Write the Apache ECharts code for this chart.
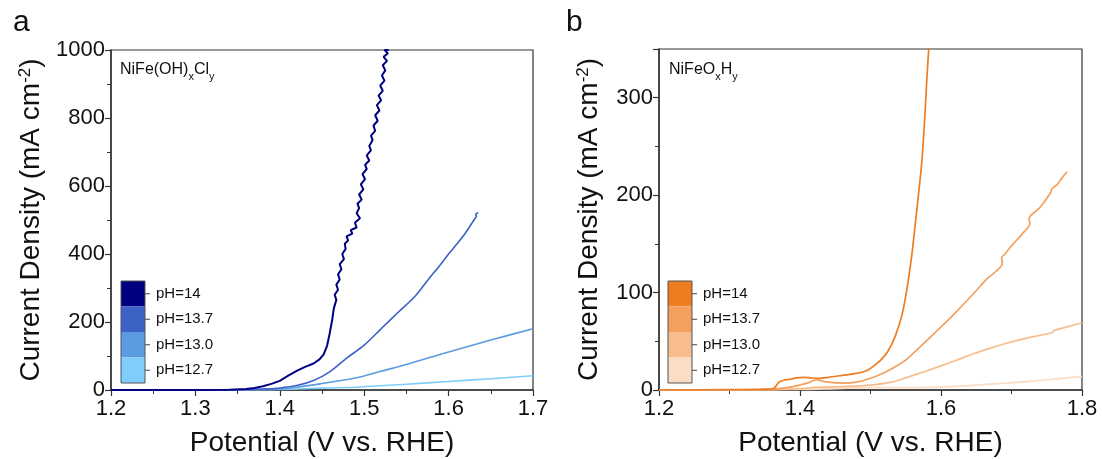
<!DOCTYPE html>
<html lang="en">
<head>
<meta charset="UTF-8">
<title>LSV curves</title>
<style>
    *{ margin:0; padding:0; }
    body{ background:#fff; }
    #chart{ width:1102px; height:459px; }
</style>
</head>
<body>
<div id="chart"></div>
<script src="https://cdn.jsdelivr.net/npm/echarts@6/dist/echarts.min.js"></script>
<script>
// ---- data (potential V vs. RHE, current density mA cm-2) ----
var phLabels = ['pH=14', 'pH=13.7', 'pH=13.0', 'pH=12.7']
var blueColors = ['#000080', '#3d62c5', '#5b9be0', '#7fcdfb']
var orangeColors = ['#ee7d22', '#f3a05e', '#f7bd8d', '#fbdcc4']

// panel a : NiFe(OH)xCly
var a_ph14 = [[1.20,0],[1.30,0.3],[1.34,1],[1.36,3],[1.37,6],[1.38,11],[1.39,18],[1.40,27],[1.41,42],[1.42,56],[1.43,68],[1.44,78],
    [1.447,90],[1.452,105],[1.456,130],[1.459,165],[1.462,205],[1.464,240],[1.467,265],[1.465,280],[1.469,295],[1.467,310],
    [1.471,325],[1.469,340],[1.473,355],[1.471,370],[1.476,385],[1.474,400],[1.478,415],[1.477,430],[1.481,440],[1.479,452],
    [1.486,460],[1.484,470],[1.491,478],[1.489,492],[1.495,505],[1.491,520],[1.494,535],[1.492,548],[1.497,560],[1.494,575],
    [1.499,590],[1.496,605],[1.501,620],[1.498,635],[1.503,650],[1.501,662],[1.506,675],[1.503,690],[1.508,705],[1.506,718],
    [1.510,735],[1.508,748],[1.513,762],[1.511,778],[1.516,792],[1.513,808],[1.518,822],[1.515,838],[1.520,852],[1.517,866],
    [1.522,880],[1.519,895],[1.524,910],[1.521,925],[1.525,940],[1.522,955],[1.527,968],[1.523,980],[1.528,990],[1.524,1000],[1.529,1000]]
var a_ph137 = [[1.20,0],[1.30,0.2],[1.36,1],[1.38,3],[1.40,6],[1.42,13],[1.44,28],[1.46,55],[1.48,95],[1.50,132],[1.52,180],
    [1.54,228],[1.56,275],[1.575,322],[1.59,368],[1.60,400],[1.61,430],[1.62,462],[1.63,500],[1.633,512],[1.632,516],[1.635,522]]
var a_ph130 = [[1.20,0],[1.30,0.2],[1.36,0.8],[1.40,3],[1.42,8],[1.45,19],[1.48,31],[1.495,38],[1.52,55],[1.55,75],[1.60,112],
    [1.65,147],[1.70,180]]
var a_ph127 = [[1.20,0],[1.30,0.1],[1.38,1],[1.42,3],[1.45,5.5],[1.495,9],[1.55,17],[1.60,25],[1.65,33],[1.70,42]]

// panel b : NiFeOxHy
var b_ph14 = [[1.20,0],[1.30,0.3],[1.35,0.8],[1.362,1.5],[1.366,4],[1.370,8],[1.377,10],[1.386,11],[1.395,12.5],[1.405,13],
    [1.415,12.5],[1.425,12],[1.44,13],[1.46,15],[1.48,17],[1.495,20],[1.505,25],[1.515,31],[1.525,40],[1.535,55],[1.545,78],
    [1.552,105],[1.558,135],[1.563,167],[1.568,200],[1.573,236],[1.577,280],[1.580,320],[1.583,355]]
var b_ph137 = [[1.20,0],[1.35,0.5],[1.37,1.5],[1.39,3.5],[1.41,7],[1.42,10],[1.425,10.5],[1.43,9.5],[1.44,8],[1.46,7],[1.48,8],
    [1.50,12],[1.52,18],[1.54,26],[1.552,32],[1.57,44],[1.599,64],[1.62,79],[1.645,98],[1.665,114],[1.687,130],[1.686,136],
    [1.690,139],[1.70,148],[1.715,160],[1.726,171],[1.725,176],[1.74,187],[1.755,202],[1.758,207],[1.765,211],[1.772,218],[1.779,224]]
var b_ph130 = [[1.20,0],[1.36,0.3],[1.40,1.5],[1.43,3],[1.46,3.5],[1.50,5],[1.53,8],[1.552,13],[1.575,18.5],[1.599,24.5],[1.62,30],
    [1.645,37],[1.67,43],[1.693,48],[1.72,53],[1.758,59],[1.760,61],[1.78,65],[1.80,69]]
var b_ph127 = [[1.20,0],[1.40,0.5],[1.45,1.5],[1.50,2.5],[1.55,2.5],[1.60,3],[1.65,5],[1.693,7],[1.75,10.5],[1.80,14]]

var seriesA = [a_ph14, a_ph137, a_ph130, a_ph127]
var seriesB = [b_ph14, b_ph137, b_ph130, b_ph127]

// ---- chart ----
var font = 'Liberation Sans, Arial, sans-serif'
var chart = echarts.init(document.getElementById('chart'))

function xAxisOf(idx, min, max, step) {
    return {
        type: 'value', gridIndex: idx, min: min, max: max, interval: step,
        name: 'Potential (V vs. RHE)', nameLocation: 'middle', nameGap: 39,
        nameTextStyle: { fontSize: 28, fontFamily: font, color: '#111' },
        axisLine: { lineStyle: { color: '#333', width: 1.5 } },
        axisTick: { length: 6, lineStyle: { color: '#333', width: 1.2 } },
        minorTick: { show: true, splitNumber: 2, length: 4, lineStyle: { color: '#333' } },
        splitLine: { show: false },
        axisLabel: { fontSize: 22, fontFamily: font, color: '#111', margin: 8,
            formatter: function (v) { return v.toFixed(1) } }
    }
}
function yAxisOf(idx, max, step, gap) {
    return {
        type: 'value', gridIndex: idx, min: 0, max: max, interval: step,
        name: 'Current Density (mA cm{sup|-2})', nameLocation: 'middle', nameGap: gap,
        nameTextStyle: { fontSize: 28, fontFamily: font, color: '#111',
            rich: { sup: { fontSize: 17, fontFamily: font, color: '#111', verticalAlign: 'top' } } },
        axisLine: { lineStyle: { color: '#333', width: 1.5 } },
        axisTick: { length: 6, lineStyle: { color: '#333', width: 1.2 } },
        minorTick: { show: true, splitNumber: 2, length: 4, lineStyle: { color: '#333' } },
        splitLine: { show: false },
        axisLabel: { fontSize: 22, fontFamily: font, color: '#111', margin: 6, showMaxLabel: max % step === 0,
            formatter: function (v) { return String(v) } }
    }
}

var series = []
seriesA.forEach(function (d, i) {
    series.push({ type: 'line', xAxisIndex: 0, yAxisIndex: 0, data: d, showSymbol: false,
        smooth: i === 0 ? false : 0.3,
        lineStyle: { color: blueColors[i], width: i === 0 ? 2 : 1.6 }, z: 10 - i })
})
seriesB.forEach(function (d, i) {
    series.push({ type: 'line', xAxisIndex: 1, yAxisIndex: 1, data: d, showSymbol: false, smooth: 0.3,
        lineStyle: { color: orangeColors[i], width: 1.7 }, z: 10 - i })
})

// stacked colour legend block
function legendBlock(x, colors) {
    var items = []
    var top = 281, h = 25.5, w = 24
    colors.forEach(function (c, i) {
        items.push({ type: 'rect', shape: { x: x, y: top + i * h, width: w, height: h }, style: { fill: c } })
        items.push({ type: 'line', shape: { x1: x + w, y1: top + i * h + h / 2, x2: x + w + 5, y2: top + i * h + h / 2 },
            style: { stroke: '#444', lineWidth: 1 } })
        items.push({ type: 'text', x: x + w + 11, y: top + i * h + h / 2,
            style: { text: phLabels[i], fontSize: 15, fontFamily: font, fill: '#111', verticalAlign: 'middle' } })
    })
    items.push({ type: 'rect', shape: { x: x, y: top, width: w, height: h * 4 },
        style: { fill: 'none', stroke: '#555', lineWidth: 1 } })
    return items
}

var subRich = { sub: { fontSize: 11, fontFamily: font, fill: '#111', verticalAlign: 'bottom', padding: [0, 0, -4, 0] } }

var option = {
    animation: false,
    backgroundColor: '#fff',
    grid: [
        { left: 111, right: 569, top: 50, bottom: 69, show: true, borderColor: '#333', borderWidth: 1.2, containLabel: false, outerBoundsMode: 'none' },
        { left: 659, right: 20, top: 49, bottom: 69, show: true, borderColor: '#333', borderWidth: 1.2, containLabel: false, outerBoundsMode: 'none' }
    ],
    xAxis: [xAxisOf(0, 1.2, 1.7, 0.1), xAxisOf(1, 1.2, 1.8, 0.2)],
    yAxis: [yAxisOf(0, 1000, 200, 66), yAxisOf(1, 350, 100, 56)],
    series: series,
    graphic: [
        { type: 'text', x: 13, y: 8, style: { text: 'a', fontSize: 30, fontFamily: font, fill: '#111' } },
        { type: 'text', x: 566, y: 8, style: { text: 'b', fontSize: 30, fontFamily: font, fill: '#111' } },
        { type: 'text', x: 120, y: 62, style: { text: 'NiFe(OH){sub|x}Cl{sub|y}', fontSize: 16, fontFamily: font, fill: '#111', rich: subRich } },
        { type: 'text', x: 669, y: 62, style: { text: 'NiFeO{sub|x}H{sub|y}', fontSize: 16, fontFamily: font, fill: '#111', rich: subRich } }
    ].concat(legendBlock(121, blueColors)).concat(legendBlock(668, orangeColors))
}
chart.setOption(option)
</script>
</body>
</html>
